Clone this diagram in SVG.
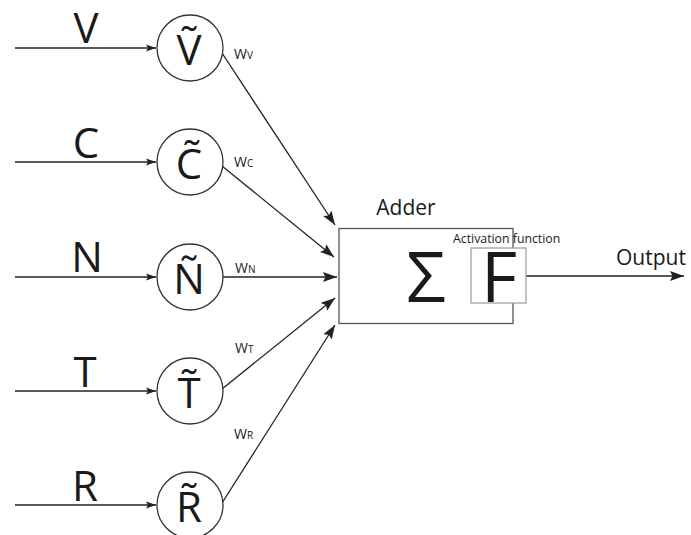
<svg xmlns="http://www.w3.org/2000/svg" width="691" height="535" viewBox="0 0 691 535">
<defs>
<style>
.t{font-family:"Open Sans","Noto Sans","DejaVu Sans",sans-serif;fill:#1a1a1a}
.big{font-size:42px}
.w{font-size:14px}
.ws{font-size:10px}
.ln{stroke:#222;stroke-width:1.3;fill:none}
.cir{stroke:#333;stroke-width:1.3;fill:#fff}
</style>
<marker id="ah" markerUnits="userSpaceOnUse" markerWidth="15" markerHeight="11" refX="14" refY="5.5" orient="auto">
<path d="M0,0.5 L14,5.5 L0,10.5 L2.5,5.5 z" fill="#222"/>
</marker>
<marker id="ahs" markerUnits="userSpaceOnUse" markerWidth="11" markerHeight="8" refX="10" refY="4" orient="auto">
<path d="M0,0.5 L10,4 L0,7.5 L2,4 z" fill="#222"/>
</marker>
</defs>
<rect width="691" height="535" fill="#fff"/>

<g id="connectors">
<line class="ln" x1="15" y1="48" x2="156" y2="48" marker-end="url(#ahs)"/>
<line class="ln" x1="15" y1="162" x2="156" y2="162" marker-end="url(#ahs)"/>
<line class="ln" x1="15" y1="277" x2="156" y2="277" marker-end="url(#ahs)"/>
<line class="ln" x1="15" y1="391" x2="156" y2="391" marker-end="url(#ahs)"/>
<line class="ln" x1="15" y1="505" x2="156" y2="505" marker-end="url(#ahs)"/>
<line class="ln" x1="222" y1="53" x2="335" y2="225" marker-end="url(#ah)"/>
<line class="ln" x1="222" y1="166" x2="334" y2="257" marker-end="url(#ah)"/>
<line class="ln" x1="223" y1="277" x2="337" y2="277" marker-end="url(#ah)"/>
<line class="ln" x1="222" y1="389" x2="335" y2="298" marker-end="url(#ah)"/>
<line class="ln" x1="222" y1="503" x2="335" y2="325" marker-end="url(#ah)"/>
<line class="ln" x1="526" y1="276" x2="684" y2="276" marker-end="url(#ah)"/>
<text class="t w" x="234" y="59">W<tspan class="ws">V</tspan></text>
<text class="t w" x="234" y="167">W<tspan class="ws">C</tspan></text>
<text class="t w" x="235" y="273">W<tspan class="ws">N</tspan></text>
<text class="t w" x="235" y="353">W<tspan class="ws">T</tspan></text>
<text class="t w" x="234" y="439">W<tspan class="ws">R</tspan></text>
</g>

<g id="input-V"><text class="t big" x="86" y="43" text-anchor="middle">V</text></g>
<g id="input-C"><text class="t big" x="86" y="158" text-anchor="middle">C</text></g>
<g id="input-N"><text class="t big" x="87" y="272" text-anchor="middle">N</text></g>
<g id="input-T"><text class="t big" x="85" y="387" text-anchor="middle">T</text></g>
<g id="input-R"><text class="t big" x="85" y="501" text-anchor="middle">R</text></g>

<g id="node-V"><circle class="cir" cx="190" cy="48" r="33"/><text class="t big" x="189" y="65" text-anchor="middle">V&#x303;</text></g>
<g id="node-C"><circle class="cir" cx="190" cy="162" r="33"/><text class="t big" x="189" y="179" text-anchor="middle">C&#x303;</text></g>
<g id="node-N"><circle class="cir" cx="190" cy="277" r="33"/><text class="t big" x="189" y="294" text-anchor="middle">N&#x303;</text></g>
<g id="node-T"><circle class="cir" cx="190" cy="391" r="33"/><text class="t big" x="189" y="408" text-anchor="middle">T&#x303;</text></g>
<g id="node-R"><circle class="cir" cx="190" cy="505" r="33"/><text class="t big" x="189" y="522" text-anchor="middle">R&#x303;</text></g>

<g id="adder">
<rect x="339" y="228.5" width="174" height="95" fill="#fff" stroke="#555" stroke-width="1.3"/>
<text class="t" x="406" y="215" font-size="21" text-anchor="middle">Adder</text>
<text class="t" x="426" y="302" font-size="70" text-anchor="middle">Σ</text>
</g>

<g id="activation">
<text class="t" x="453" y="243" font-size="12.3">Activation function</text>
<rect x="471" y="248" width="55" height="55" fill="#fff" stroke="#999" stroke-width="1.2"/>
<text class="t" x="499" y="302" font-size="70" text-anchor="middle">F</text>
</g>

<g id="output"><text class="t" x="651" y="265" font-size="21" text-anchor="middle">Output</text></g>
</svg>
